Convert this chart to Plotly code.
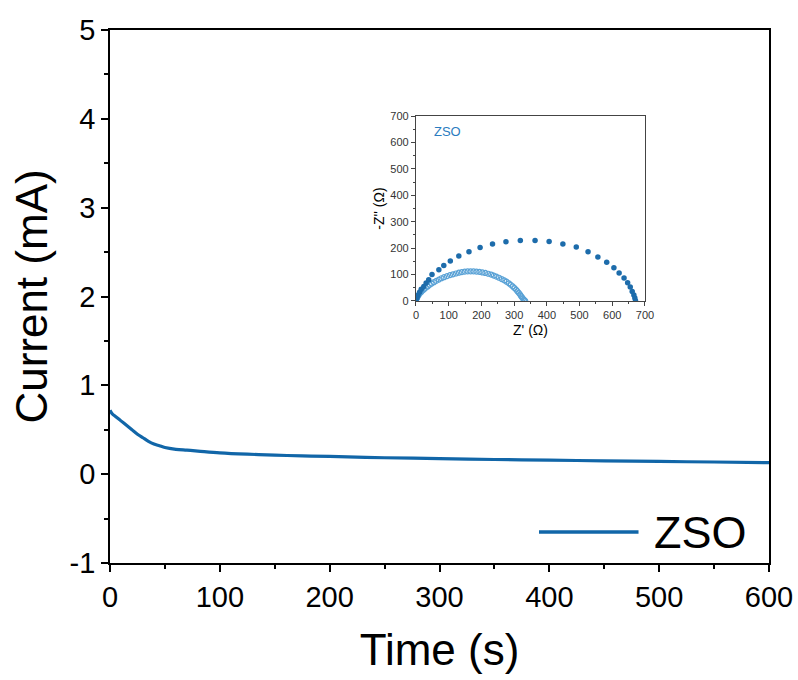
import plotly.graph_objects as go

# Main chronoamperometry data
time_s = [0, 2, 5, 10, 15, 20, 25, 30, 35, 40, 45, 50, 60, 70, 80, 100, 125, 150, 175, 200,
          250, 300, 350, 400, 450, 500, 550, 600]
current_mA = [0.72, 0.68, 0.65, 0.60, 0.55, 0.50, 0.45, 0.41, 0.37, 0.34, 0.32, 0.30, 0.28, 0.27,
              0.26, 0.24, 0.225, 0.215, 0.205, 0.20, 0.185, 0.175, 0.165, 0.158, 0.15, 0.143, 0.137, 0.13]
x_ticks = [0, 100, 200, 300, 400, 500, 600]
y_ticks = [-1, 0, 1, 2, 3, 4, 5]
y_ticklabels = ["-1", "0", "1", "2", "3", "4", "5"]

# Inset Nyquist data: large semicircle (dark dots)
z_re_big = [0, 3, 6, 11, 16, 24, 31, 39, 49, 70, 85, 105, 131, 162, 196, 234, 275, 319, 364, 407,
            449, 490, 526, 556, 583, 605, 621, 636, 647, 655, 661, 666, 669, 671]
z_im_big = [0, 11, 21, 33, 44, 55, 68, 80, 100, 118, 134, 151, 170, 186, 202, 216, 224, 229, 229, 225,
            216, 204, 186, 166, 147, 126, 106, 87, 69, 53, 36, 23, 11, 1]

# Inset Nyquist data: small semicircle (light open circles)
z_re_small = [0, 2, 4, 6, 9, 12, 16, 20, 25, 30, 36, 42, 48, 55, 62, 70, 78, 86, 95, 104, 113, 122,
              131, 140, 149, 158, 167, 176, 185, 194, 203, 212, 221, 230, 238, 246, 254, 262, 270,
              277, 284, 290, 296, 301, 306, 310, 314, 318, 321, 324, 327, 330, 332, 334]
z_im_small = [0, 8, 14, 19, 24, 29, 34, 39, 44, 50, 55, 61, 66, 71, 76, 81, 86, 90, 94, 98, 101, 104,
              107, 109, 111, 112, 112, 112, 111, 110, 108, 106, 103, 100, 96, 92, 88, 83, 78,
              73, 67, 61, 55, 49, 43, 37, 31, 25, 19, 14, 9, 5, 2, 0]
inset_ticks = [0, 100, 200, 300, 400, 500, 600, 700]

main_color = "#1166a8"
font_family = "Liberation Sans, Arial, sans-serif"

fig = go.Figure()
fig.add_trace(go.Scatter(x=time_s, y=current_mA, mode="lines", name="ZSO",
                         line=dict(color=main_color, width=3.2, shape="spline"),
                         showlegend=False, xaxis="x", yaxis="y"))
fig.add_trace(go.Scatter(x=z_re_small, y=z_im_small, mode="markers", showlegend=False,
                         marker=dict(symbol="circle-open", size=5, color="#5aa2d6",
                                     line=dict(width=1.2, color="#5aa2d6")),
                         xaxis="x2", yaxis="y2"))
fig.add_trace(go.Scatter(x=z_re_big, y=z_im_big, mode="markers", showlegend=False,
                         marker=dict(symbol="circle", size=5.5, color="#1d6cab"),
                         xaxis="x2", yaxis="y2"))

axis_common = dict(showline=True, linecolor="black", linewidth=1.8, mirror=True,
                   ticks="outside", tickcolor="black", tickwidth=1.6, showgrid=False,
                   zeroline=False, automargin=False)
inset_common = dict(showline=True, linecolor="#444", linewidth=1.2, mirror=True,
                    ticks="outside", tickcolor="#444", tickwidth=1, showgrid=False, zeroline=False,
                    automargin=False,
                    range=[0, 700], tickvals=inset_ticks, ticklen=4,
                    tickfont=dict(size=11, color="#333"),
                    minor=dict(tickvals=[50, 150, 250, 350, 450, 550, 650], ticks="outside",
                               ticklen=2, tickcolor="#444", tickwidth=1))

fig.update_layout(
    width=798, height=680,
    margin=dict(l=110, r=29, t=30, b=117),
    paper_bgcolor="white", plot_bgcolor="white",
    font=dict(family=font_family, color="black"),
    xaxis=dict(range=[0, 600], tickvals=x_ticks, ticklen=7,
               tickfont=dict(size=29), title=dict(text="Time (s)", font=dict(size=44), standoff=22),
               minor=dict(tickvals=[50, 150, 250, 350, 450, 550], ticks="outside", ticklen=4,
                          tickcolor="black", tickwidth=1.6),
               **axis_common),
    yaxis=dict(range=[-1, 5], tickvals=y_ticks, ticktext=y_ticklabels, ticklen=7,
               tickfont=dict(size=29), title=dict(text="Current (mA)", font=dict(size=44), standoff=8),
               minor=dict(tickvals=[-0.5, 0.5, 1.5, 2.5, 3.5, 4.5], ticks="outside", ticklen=4,
                          tickcolor="black", tickwidth=1.6),
               **axis_common),
    xaxis2=dict(domain=[0.4643, 0.8118], anchor="y2",
                title=dict(text="Z' (Ω)", font=dict(size=14), standoff=4), **inset_common),
    yaxis2=dict(domain=[0.4916, 0.8386], anchor="x2",
                title=dict(text="-Z'' (Ω)", font=dict(size=14), standoff=2), **inset_common),
    shapes=[dict(type="line", xref="paper", yref="paper", x0=0.651, x1=0.802, y0=0.058, y1=0.058,
                 line=dict(color=main_color, width=3.5))],
    annotations=[
        dict(text="ZSO", xref="paper", yref="paper", x=0.822, y=0.058, xanchor="left",
             yanchor="middle", showarrow=False, font=dict(size=45, color="black")),
        dict(text="ZSO", xref="x2", yref="y2", x=50, y=640, xanchor="left", yanchor="middle",
             showarrow=False, font=dict(size=13, color="#2a7cc0")),
    ],
)

fig.write_html("out.html")
